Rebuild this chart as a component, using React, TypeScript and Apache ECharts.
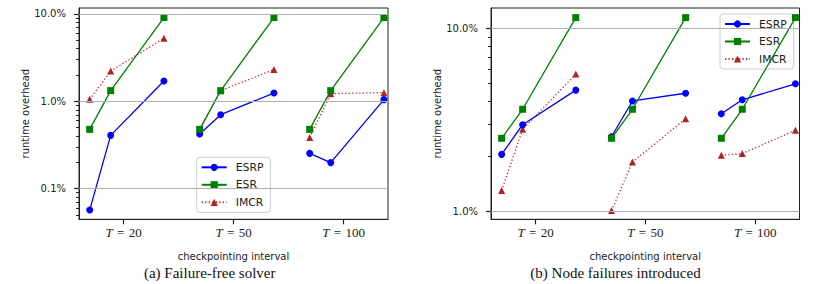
import React, { useEffect, useRef } from "react";
import * as echarts from "echarts";

// ---- data ----
const xGroups = ["20", "50", "100"];
const subOffsets = [-0.309, -0.118, 0.366];
const seriesNames = ["ESRP", "ESR", "IMCR"];

// (a) failure-free solver, runtime overhead in %
const freeESRP = [
  [0.057, 0.408, 1.71],
  [0.422, 0.704, 1.245],
  [0.254, 0.199, 1.046],
];
const freeESR = [
  [0.478, 1.326, 9.1],
  [0.478, 1.326, 9.1],
  [0.478, 1.326, 9.1],
];
const freeIMCR = [
  [1.054, 2.22, 5.27],
  [0.478, 1.326, 2.31],
  [0.387, 1.225, 1.258],
];

// (b) node failures introduced
const failESRP = [
  [2.05, 2.98, 4.61],
  [2.56, 4.02, 4.43],
  [3.42, 4.08, 4.99],
];
const failESR = [
  [2.51, 3.62, 11.5],
  [2.51, 3.62, 11.5],
  [2.51, 3.62, 11.5],
];
const failIMCR = [
  [1.3, 2.81, 5.64],
  [1.01, 1.86, 3.21],
  [2.03, 2.07, 2.78],
];

const majorA = [0.1, 1, 10];
const minorA = [0.05, 0.06, 0.07, 0.08, 0.09, 0.2, 0.3, 0.4, 0.5, 0.6, 0.7, 0.8, 0.9, 2, 3, 4, 5, 6, 7, 8, 9];
const majorB = [1, 10];
const minorB = [2, 3, 4, 5, 6, 7, 8, 9];

const captions = ["(a) Failure-free solver", "(b) Node failures introduced"];

function toPoints(vals: number[][]) {
  const out: any[] = [];
  vals.forEach((g, gi) => {
    g.forEach((v, k) => out.push([gi + subOffsets[k], v]));
    if (gi < vals.length - 1) out.push([gi + 0.5, "-"]);
  });
  return out;
}

const SANS = "DejaVu Sans";
const SERIF = "Liberation Serif";
const INK = "#222";

export default function App() {
  const ref = useRef<HTMLDivElement>(null);
  useEffect(() => {
    if (!ref.current) return;
    const chart = echarts.init(ref.current, undefined, { renderer: "svg" });

    const grids = [
      { left: 79, top: 8, width: 309, height: 211.3 },
      { left: 491, top: 8, width: 308.5, height: 211.3 },
    ];
    const yRanges = [
      [0.0447, 11.7],
      [0.904, 12.98],
    ];
    const majors = [majorA, majorB];
    const minors = [minorA, minorB];
    const dataSets = [
      [freeESRP, freeESR, freeIMCR],
      [failESRP, failESR, failIMCR],
    ];
    const legendPos = [
      { left: 196.7, top: 157.3 },
      { left: 720, top: 14 },
    ];

    const xAxis: any[] = [];
    const yAxis: any[] = [];
    const series: any[] = [];
    const legend: any[] = [];

    [0, 1].forEach((p) => {
      xAxis.push({
        type: "value",
        gridIndex: p,
        position: "bottom",
        min: -0.406,
        max: 2.403,
        axisLine: { show: true, onZero: false, lineStyle: { color: INK, width: 1 } },
        axisTick: { show: true, customValues: [0, 1, 2], length: 5, lineStyle: { color: INK, width: 1.2 } },
        axisLabel: {
          customValues: [0, 1, 2],
          margin: 7,
          formatter: (v: number) => `{i|T}{r|\u2004=\u2004${xGroups[Math.round(v)]}}`,
          rich: {
            i: { fontFamily: SERIF, fontStyle: "italic", fontSize: 13, color: INK },
            r: { fontFamily: SERIF, fontSize: 13, color: INK },
          },
        },
        splitLine: { show: false },
        name: "checkpointing interval",
        nameLocation: "middle",
        nameGap: 32,
        nameTextStyle: { fontFamily: SANS, fontSize: 10, color: INK },
      });
      yAxis.push({
        type: "log",
        logBase: 10,
        gridIndex: p,
        position: "left",
        min: yRanges[p][0],
        max: yRanges[p][1],
        axisLine: { show: true, onZero: false, lineStyle: { color: INK, width: 1 } },
        axisTick: { show: true, customValues: majors[p], length: 5, lineStyle: { color: INK, width: 1.2 } },
        axisLabel: {
          customValues: majors[p],
          margin: 13,
          formatter: (v: number) => `${Number(v).toFixed(1)}%`,
          fontFamily: SANS,
          fontSize: 10,
          color: INK,
        },
        splitLine: { show: false },
        name: "runtime overhead",
        nameLocation: "middle",
        nameGap: 49,
        nameTextStyle: { fontFamily: SANS, fontSize: 10, color: INK },
      });
      yAxis.push({
        type: "log",
        logBase: 10,
        gridIndex: p,
        position: "left",
        offset: 0,
        min: yRanges[p][0],
        max: yRanges[p][1],
        axisLine: { show: true, onZero: false, lineStyle: { color: "rgba(0,0,0,0)", width: 1 } },
        axisTick: { show: true, customValues: minors[p], length: 3, lineStyle: { color: INK, width: 1 } },
        axisLabel: { show: false },
        splitLine: { show: false },
      });

      const yi = p * 2;
      series.push({
        name: "_grid" + p,
        type: "line",
        xAxisIndex: p,
        yAxisIndex: yi,
        data: [],
        z: 1,
        silent: true,
        markLine: {
          silent: true,
          symbol: ["none", "none"],
          label: { show: false },
          lineStyle: { color: "#b0b0b0", width: 1, type: "solid" },
          emphasis: { disabled: true },
          data: majors[p].map((v) => ({ yAxis: v })),
        },
      });
      const [esrp, esr, imcr] = dataSets[p];
      series.push({
        name: "IMCR", type: "line", xAxisIndex: p, yAxisIndex: yi, data: toPoints(imcr), z: 2,
        symbol: "triangle", symbolSize: 7,
        lineStyle: { color: "#d62728", width: 1.3, type: [1.3, 2.2] }, itemStyle: { color: "#b22222" },
      });
      series.push({
        name: "ESRP", type: "line", xAxisIndex: p, yAxisIndex: yi, data: toPoints(esrp), z: 3,
        symbol: "circle", symbolSize: 7,
        lineStyle: { color: "#0000ff", width: 1.3 }, itemStyle: { color: "#0000ff" },
      });
      series.push({
        name: "ESR", type: "line", xAxisIndex: p, yAxisIndex: yi, data: toPoints(esr), z: 4,
        symbol: "rect", symbolSize: 7,
        lineStyle: { color: "#008000", width: 1.3 }, itemStyle: { color: "#008000" },
      });

      legend.push({
        data: seriesNames, orient: "vertical", left: legendPos[p].left, top: legendPos[p].top,
        itemWidth: 25, itemHeight: 9, itemGap: 5.5, padding: [4, 7, 4, 4],
        backgroundColor: "rgba(255,255,255,0.8)", borderColor: "#cccccc", borderWidth: 1, borderRadius: 3,
        selectedMode: false,
        textStyle: { fontFamily: SANS, fontSize: 10.8, color: INK, lineHeight: 12, padding: [0, 0, 0, 4] },
      });
    });

    chart.setOption({
      animation: false,
      backgroundColor: "#ffffff",
      grid: grids.map((g) => ({ ...g, show: true, borderColor: INK, borderWidth: 1, backgroundColor: "transparent" })),
      xAxis, yAxis, legend, series,
      graphic: [
        { type: "text", x: 209.7, y: 273, style: { text: captions[0], fontFamily: SERIF, fontSize: 15, fill: "#111", align: "center", verticalAlign: "middle" } },
        { type: "text", x: 615.5, y: 273, style: { text: captions[1], fontFamily: SERIF, fontSize: 15, fill: "#111", align: "center", verticalAlign: "middle" } },
      ],
    });
    return () => chart.dispose();
  }, []);
  return <div ref={ref} style={{ position: "absolute", left: 0, top: 0, width: 830, height: 284 }} />;
}
